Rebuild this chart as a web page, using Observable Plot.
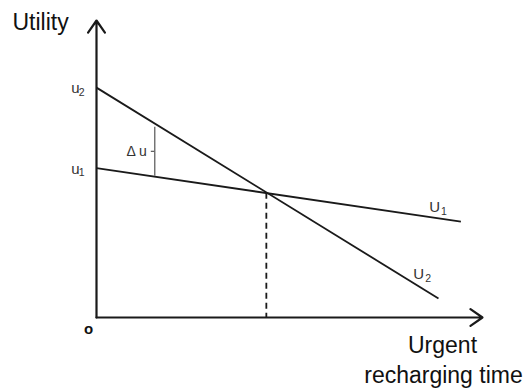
<!DOCTYPE html>
<html>
<head>
<meta charset="utf-8">
<script src="https://cdn.jsdelivr.net/npm/d3@7"></script>
<script src="https://cdn.jsdelivr.net/npm/@observablehq/plot@0.6"></script>
<style>
  html, body { margin: 0; padding: 0; background: #fff; }
  svg { display: block; }
</style>
</head>
<body>
<div id="chart"></div>
<script>
// Conceptual chart data (abstract units: time 0–100, utility 0–100)
const curveNames = ["U", "U"];
const curveSubs = ["1", "2"];
const startUtility = [50.3, 77.4];   // u1, u2 at time 0
const endTime = [94.4, 88.6];
const endUtility = [32.3, 6.4];
const labelTime = [89.0, 84.9];      // where the U1 / U2 labels sit
const labelUtility = [37.0, 14.5];
const crossTime = [44];
const crossUtility = [42];
const deltaTime = [15.1];
const deltaLow = [47.7];
const deltaHigh = [64.2];
const axisLabels = ["Utility", "Urgent", "recharging time", "o"];

const curves = curveNames.map((n, i) => ({
  name: n, sub: curveSubs[i],
  x1: 0, y1: startUtility[i], x2: endTime[i], y2: endUtility[i],
  lx: labelTime[i], ly: labelUtility[i]
}));
const deltas = deltaTime.map((t, i) => ({t, lo: deltaLow[i], hi: deltaHigh[i], mid: (deltaLow[i] + deltaHigh[i]) / 2}));

const font = "Liberation Sans, Arial, sans-serif";
const ink = "#1a1a1a";
const lbl = "#333";

const chart = Plot.plot({
  width: 527,
  height: 388,
  margin: 0,
  x: {domain: [0, 100], range: [96, 482], axis: null},
  y: {domain: [0, 100], range: [317, 20], axis: null},
  style: {fontFamily: font, background: "#fff"},
  marks: [
    // axes with arrowheads
    Plot.arrow([0], {x1: 0, y1: 0, x2: 0, y2: 100, stroke: ink, strokeWidth: 2.2, headLength: 10, headAngle: 70}),
    Plot.arrow([0], {x1: 0, y1: 0, x2: 100, y2: 0, stroke: ink, strokeWidth: 2.2, headLength: 10, headAngle: 70}),
    // utility curves
    Plot.link(curves, {x1: "x1", y1: "y1", x2: "x2", y2: "y2", stroke: ink, strokeWidth: 1.8}),
    // dashed drop line from the crossing
    Plot.link(crossTime, {x1: (d) => d, x2: (d) => d, y1: (d, i) => crossUtility[i], y2: 0,
      stroke: ink, strokeWidth: 1.8, strokeDasharray: "6,4"}),
    // delta u segment and tick
    Plot.link(deltas, {x1: "t", x2: "t", y1: "lo", y2: "hi", stroke: "#555", strokeWidth: 1.2}),
    Plot.ruleY(deltas, {y: "mid", x1: (d) => d.t - 0.9, x2: "t", stroke: "#555", strokeWidth: 1.2}),
    Plot.text(deltas, {x: "t", y: "mid", text: () => "Δ u", textAnchor: "end", dx: -8, fontSize: 14, fill: lbl}),
    // u1, u2 labels on the y axis
    Plot.text(curves, {x: 0, y: "y1", text: (d) => d.name.toLowerCase(), textAnchor: "end", dx: -17, dy: 1, fontSize: 15, fill: lbl}),
    Plot.text(curves, {x: 0, y: "y1", text: "sub", textAnchor: "end", dx: -12, dy: 5, fontSize: 10.5, fill: lbl}),
    // U1, U2 curve labels
    Plot.text(curves, {x: "lx", y: "ly", text: "name", textAnchor: "end", dx: 0, fontSize: 15, fill: lbl}),
    Plot.text(curves, {x: "lx", y: "ly", text: "sub", textAnchor: "start", dx: 1, dy: 4, fontSize: 10.5, fill: lbl}),
    // axis titles
    Plot.text([axisLabels[0]], {x: 0, y: 100, text: (d) => d, textAnchor: "start", dx: -84, dy: 2, fontSize: 23, fill: "#111"}),
    Plot.text([axisLabels[1]], {x: 100, y: 0, text: (d) => d, textAnchor: "middle", dx: -40, dy: 28, fontSize: 23, fill: "#111"}),
    Plot.text([axisLabels[2]], {x: 100, y: 0, text: (d) => d, textAnchor: "middle", dx: -39, dy: 58, fontSize: 23, fill: "#111"}),
    Plot.text([axisLabels[3]], {x: 0, y: 0, text: (d) => d, textAnchor: "middle", dx: -8, dy: 12, fontSize: 15, fontWeight: "bold", fill: "#111"})
  ]
});

document.getElementById("chart").append(chart);
</script>
</body>
</html>
